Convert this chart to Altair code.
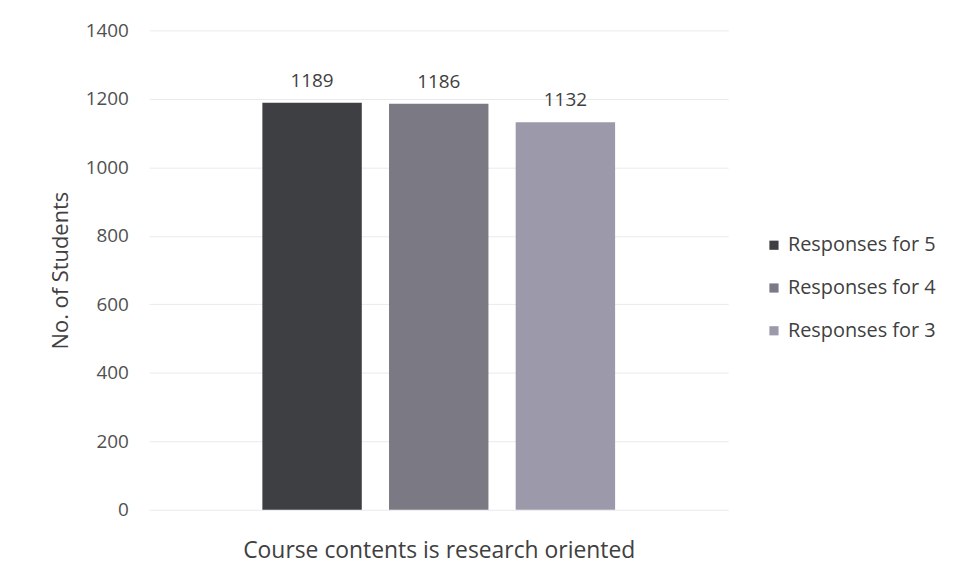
import altair as alt
import pandas as pd

series = ["Responses for 5", "Responses for 4", "Responses for 3"]
values = [1189, 1186, 1132]
colors = ["#3e3f43", "#7b7983", "#9c9aaa"]
y_ticks = [0, 200, 400, 600, 800, 1000, 1200, 1400]
category_title = "Course contents is research oriented"

df = pd.DataFrame({"series": series, "value": values})

FONT = "Open Sans"

x_enc = alt.X(
    "series:N",
    sort=series,
    scale=alt.Scale(paddingInner=0.215, paddingOuter=0.893),
    axis=alt.Axis(labels=False, ticks=False, domain=False, title=category_title,
                  titleFontSize=23, titleFont=FONT, titleFontWeight="normal",
                  titleColor="#404040", titlePadding=30),
)
y_enc = alt.Y(
    "value:Q",
    scale=alt.Scale(domain=[0, 1400], nice=False),
    axis=alt.Axis(values=y_ticks, format="d", title="No. of Students", titleFontSize=22,
                  titleFont=FONT, titleFontWeight="normal", titleColor="#404040",
                  labelFontSize=19, labelFont=FONT, labelColor="#505050",
                  labelPadding=21, ticks=False, domain=False, gridColor="#e8eaf0",
                  titlePadding=13),
)

bars = alt.Chart(df).mark_bar().encode(
    x=x_enc,
    y=y_enc,
    color=alt.Color(
        "series:N",
        sort=series,
        scale=alt.Scale(domain=series, range=colors),
        legend=alt.Legend(title=None, orient="none", legendX=618, legendY=206,
                          symbolType="square", symbolSize=85, symbolStrokeWidth=0,
                          labelFontSize=20, labelFont=FONT, labelColor="#404040",
                          rowPadding=23, labelOffset=4),
    ),
)

labels = alt.Chart(df).mark_text(dy=-22, fontSize=19, font=FONT, color="#404040").encode(
    x=alt.X("series:N", sort=series),
    y="value:Q",
    text="value:Q",
)

chart = (bars + labels).properties(
    width=582, height=482,
    autosize=alt.AutoSizeParams(type="none"),
    padding={"left": 142, "top": 21, "right": 232, "bottom": 60},
    background="white",
).configure_view(strokeWidth=0)

chart.save("out.html", embed_options={"renderer": "svg", "actions": False})
